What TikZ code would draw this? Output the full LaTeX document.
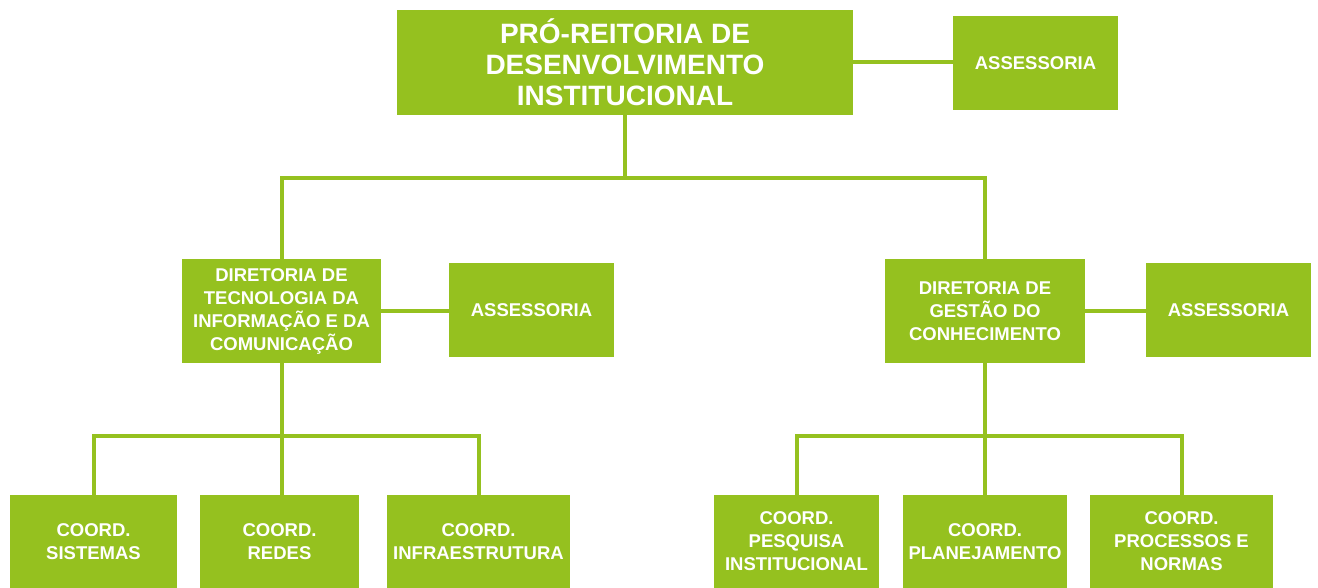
\documentclass[tikz,border=0pt]{standalone}
\usepackage{fontspec}
\setmainfont{Liberation Sans}
\definecolor{verde}{RGB}{149,193,31}
\tikzset{
  caixa/.style={fill=verde, text=white, align=center, inner sep=0pt,
    font=\bfseries\fontsize{18.5}{23}\selectfont},
  linha/.style={draw=verde, line width=4pt},
}
\begin{document}
  \begin{tikzpicture}[x=1pt,y=-1pt]
    \useasboundingbox (0,0) rectangle (1318,588);

    \node[caixa, minimum width=456pt, minimum height=105pt, font=\bfseries\fontsize{28}{31}\selectfont] (pro) at (625,62.5) {PRÓ-REITORIA DE\\DESENVOLVIMENTO\\INSTITUCIONAL};
    \node[caixa, minimum width=165pt, minimum height=94pt] (ass) at (1035.5,63) {ASSESSORIA};

    \node[caixa, minimum width=199pt, minimum height=104pt] (dti) at (281.5,311) {DIRETORIA DE\\TECNOLOGIA DA\\INFORMAÇÃO E DA\\COMUNICAÇÃO};
    \node[caixa, minimum width=165pt, minimum height=94pt] (assti) at (531.5,310) {ASSESSORIA};
    \node[caixa, minimum width=200pt, minimum height=104pt] (dgc) at (985,311) {DIRETORIA DE\\GESTÃO DO\\CONHECIMENTO};
    \node[caixa, minimum width=165pt, minimum height=94pt] (assgc) at (1228.5,310) {ASSESSORIA};

    \node[caixa, minimum width=167pt, minimum height=93pt] (sis) at (93.5,541.5) {COORD.\\SISTEMAS};
    \node[caixa, minimum width=159pt, minimum height=93pt] (red) at (279.5,541.5) {COORD.\\REDES};
    \node[caixa, minimum width=183pt, minimum height=93pt] (inf) at (478.5,541.5) {COORD.\\INFRAESTRUTURA};
    \node[caixa, minimum width=165pt, minimum height=93pt] (pes) at (796.5,541.5) {COORD.\\PESQUISA\\INSTITUCIONAL};
    \node[caixa, minimum width=164pt, minimum height=93pt] (pla) at (985,541.5) {COORD.\\PLANEJAMENTO};
    \node[caixa, minimum width=183pt, minimum height=93pt] (nor) at (1181.5,541.5) {COORD.\\PROCESSOS E\\NORMAS};

    \draw[linha] (pro.east) -- (pro.east -| ass.west);
    \draw[linha] (pro.south) -- ++(0,63) coordinate (j0);
    \draw[linha] (dti.north) |- (j0) -| (dgc.north);

    \draw[linha] (dti.east) -- (dti.east -| assti.west);
    \draw[linha] (dgc.east) -- (dgc.east -| assgc.west);

    \draw[linha] (dti.south) -- ++(0,73) coordinate (j1);
    \draw[linha] (sis.north) |- (j1) -| (inf.north);
    \draw[linha] (j1) -- (j1 |- red.north);

    \draw[linha] (dgc.south) -- ++(0,73) coordinate (j2);
    \draw[linha] (pes.north) |- (j2) -| (nor.north);
    \draw[linha] (j2) -- (pla.north);
  \end{tikzpicture}
\end{document}
